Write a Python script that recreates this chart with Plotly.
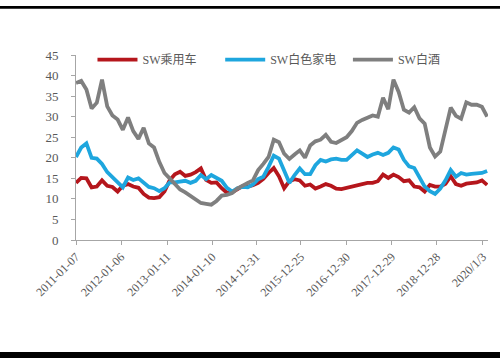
import pandas as pd
import plotly.graph_objects as go

# sample dates: every 6 weeks starting 2011-01-07
dates = pd.date_range("2011-01-07", periods=80, freq="42D")

sw_car = [13.9, 15.1, 15.0, 12.8, 13.0, 14.5, 13.2, 12.9, 11.8, 13.2,
          13.6, 13.0, 12.7, 11.2, 10.3, 10.2, 10.4, 11.8, 14.5, 16.0,
          16.6, 15.6, 15.9, 16.5, 17.4, 14.6, 13.9, 14.0, 12.6, 11.5,
          11.6, 12.4, 13.1, 13.0, 13.3, 13.9, 14.9, 16.3, 17.5, 15.5,
          12.6, 14.3, 14.8, 14.5, 13.2, 13.5, 12.5, 13.0, 13.6, 13.2,
          12.5, 12.4, 12.7, 13.0, 13.2, 13.4, 13.9, 13.9, 14.3, 15.9,
          15.1, 15.9, 15.3, 14.3, 14.5, 13.0, 12.8, 11.8, 13.4, 13.0,
          13.0, 13.7, 15.5, 13.6, 13.2, 13.7, 13.9, 14.0, 14.5, 13.4]

sw_appliance = [20.2, 22.5, 23.5, 20.0, 19.8, 18.5, 16.5, 15.2, 13.8, 12.8,
                15.2, 14.6, 15.0, 13.8, 12.9, 12.6, 11.9, 12.6, 14.0, 14.0,
                14.3, 14.4, 13.9, 14.4, 15.8, 14.8, 15.8, 15.2, 14.4, 12.7,
                11.8, 12.6, 12.9, 12.8, 13.5, 14.8, 15.4, 17.8, 20.5, 19.8,
                16.8, 13.9, 15.8, 17.4, 16.0, 16.0, 18.2, 19.5, 19.1, 19.6,
                19.8, 19.5, 19.5, 20.8, 21.8, 21.0, 20.2, 20.8, 21.2, 20.7,
                21.2, 22.5, 22.0, 19.5, 17.9, 17.5, 15.2, 13.0, 11.9, 11.2,
                12.5, 14.5, 17.0, 15.4, 16.3, 15.9, 16.1, 16.3, 16.3, 16.8]

sw_liquor = [38.2, 38.7, 36.6, 32.0, 33.4, 39.0, 32.5, 30.3, 29.3, 26.8,
             29.8, 26.5, 24.6, 27.3, 23.5, 22.5, 19.0, 16.3, 15.0, 13.5,
             12.3, 11.6, 10.8, 9.9, 9.0, 8.8, 8.6, 9.5, 10.8, 11.0,
             11.4, 12.5, 13.3, 13.9, 14.5, 17.0, 18.5, 20.2, 24.4, 23.8,
             21.0, 19.7, 20.8, 21.8, 20.0, 23.0, 24.0, 24.4, 25.6, 23.9,
             23.6, 24.4, 25.0, 26.5, 28.5, 29.2, 29.7, 30.3, 30.0, 34.6,
             31.8, 39.0, 36.0, 31.7, 31.0, 32.3, 29.6, 28.3, 22.5, 20.3,
             21.5, 27.0, 32.2, 30.2, 29.5, 33.5, 32.9, 32.9, 32.4, 30.0]

tick_dates = ["2011-01-07", "2012-01-06", "2013-01-11", "2014-01-10", "2014-12-31",
              "2015-12-25", "2016-12-30", "2017-12-29", "2018-12-28", "2020-01-03"]
tick_text = ["2011-01-07", "2012-01-06", "2013-01-11", "2014-01-10", "2014-12-31",
             "2015-12-25", "2016-12-30", "2017-12-29", "2018-12-28", "2020/1/3"]

names = ["SW乘用车", "SW白色家电", "SW白酒"]
colors = ["#B5161C", "#1EA6DE", "#7F7F7F"]
series = [sw_car, sw_appliance, sw_liquor]

FONT = "Liberation Serif, Noto Sans CJK SC, serif"

fig = go.Figure()
for nm, col, ys in zip(names, colors, series):
    fig.add_trace(go.Scatter(x=dates, y=ys, name=nm, mode="lines",
                             line=dict(color=col, width=3.8)))

fig.update_layout(
    width=500, height=358,
    margin=dict(l=76, r=12, t=55, b=118),
    paper_bgcolor="white", plot_bgcolor="white",
    font=dict(family=FONT, size=13, color="#595959"),
    showlegend=True,
    legend=dict(orientation="h", x=0.04, y=0.975, xanchor="left", yanchor="middle",
                font=dict(family=FONT, size=12, color="#595959"),
                bgcolor="rgba(0,0,0,0)", entrywidth=0.31, entrywidthmode="fraction",
                itemwidth=40, traceorder="normal"),
    xaxis=dict(type="date", range=["2011-01-07", "2020-02-14"],
               tickvals=tick_dates, ticktext=tick_text, tickangle=-45,
               showgrid=False, zeroline=False, showline=True,
               linecolor="#A6A6A6", linewidth=1, ticks="outside",
               tickcolor="#A6A6A6", ticklen=4,
               tickfont=dict(family=FONT, size=12, color="#595959")),
    yaxis=dict(range=[0, 45], tickvals=[0, 5, 10, 15, 20, 25, 30, 35, 40, 45],
               showgrid=False, zeroline=False, showline=True,
               linecolor="#A6A6A6", linewidth=1, ticks="outside",
               tickcolor="#A6A6A6", ticklen=4, ticklabelstandoff=10,
               tickfont=dict(family=FONT, size=13, color="#595959")),
    shapes=[
        dict(type="rect", xref="paper", yref="paper", x0=-0.3, x1=1.2,
             y0=1.25, y1=1.265, fillcolor="black", line=dict(width=0)),
        dict(type="rect", xref="paper", yref="paper", x0=-0.3, x1=1.2,
             y0=-0.66, y1=-0.605, fillcolor="black", line=dict(width=0)),
    ],
)

fig.write_html("out.html")
